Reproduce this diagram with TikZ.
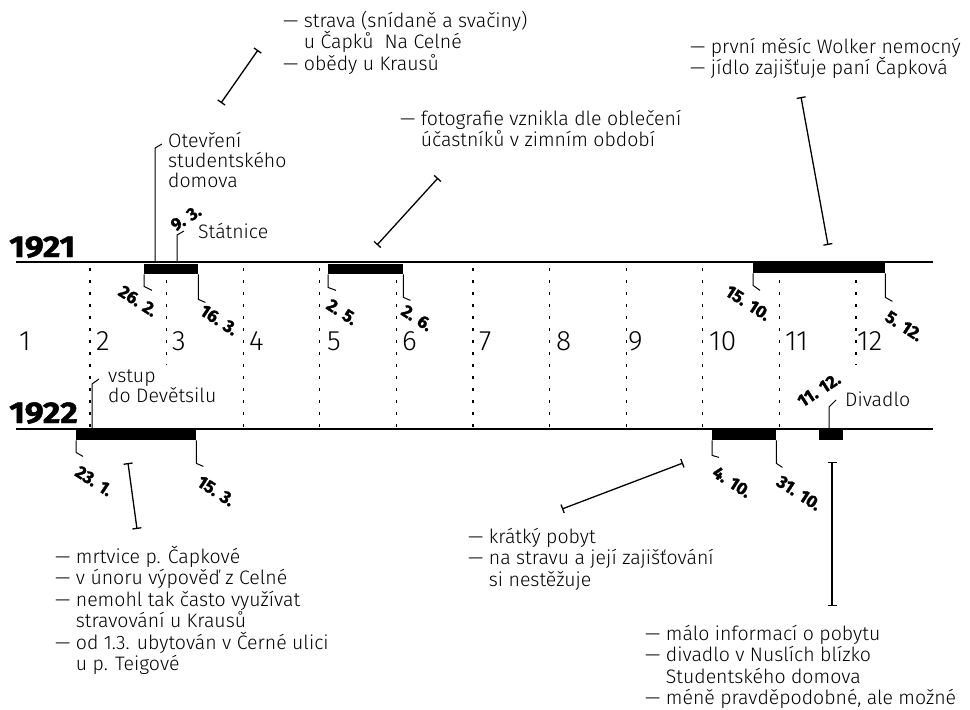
\documentclass[tikz,border=0pt]{standalone}
\usepackage{fontspec}
\setmainfont{Fira Sans Light}[BoldFont={Fira Sans Bold}]
\newfontfamily\heavyfont{Fira Sans Bold}[FakeBold=1.6]
\usetikzlibrary{arrows.meta}
\begin{document}
\begin{tikzpicture}[x=1pt,y=-1pt,
  lbl/.style={anchor=base west, inner sep=0pt, font=\fontsize{19.5}{21}\selectfont},
  mon/.style={anchor=base west, inner sep=0pt, font=\fontsize{28}{28}\selectfont},
  yr/.style={anchor=base west, inner sep=0pt, xscale=1.12, font=\fontsize{30}{30}\heavyfont},
  dt/.style={inner sep=0pt, font=\fontsize{17.5}{17.5}\heavyfont, rotate=-33},
  dtu/.style={inner sep=0pt, font=\fontsize{17.5}{17.5}\heavyfont, rotate=33},
  bar/.style={fill=black, inner sep=0pt, minimum height=10pt, anchor=north west},
  axis/.style={line width=1.4pt},
  lead/.style={line width=1pt},
  tick/.style={line width=1.3pt, {Bar[width=9pt]}-{Bar[width=9pt]}},
  gridl/.style={line width=1.2pt, dash pattern=on 2.5pt off 9.5pt}
]
\useasboundingbox[fill=white] (0,0) rectangle (970,710);

% grid
\foreach \gx/\gy in {90/428,166.6/365,243.2/428,319.8/428,396.4/428,473/428,549.6/428,626.2/428,702.8/428,779.4/428,856/365}{
  \draw[gridl] (\gx,268) -- (\gx,\gy);
}

% axes
\coordinate (a1s) at (16,262); \coordinate (a1e) at (933,262);
\coordinate (a2s) at (16,429); \coordinate (a2e) at (933,429);
\draw[axis] (a1s) -- (a1e);
\draw[axis] (a2s) -- (a2e);

\node[yr] (y1921) at (9,257) {1921};
\node[yr] (y1922) at (9,423) {1922};

% months
\foreach \i/\mx in {1/19,2/96,3/172,4/249,5/327,6/402,7/479,8/556,9/628,10/709,11/785,12/857}{
  \node[mon] (m\i) at (\mx,350) {\i};
}

% bars
\node[bar, minimum width=54pt] (b1) at (144,264) {};
\node[bar, minimum width=75pt] (b2) at (328,264) {};
\node[bar, minimum width=132pt] (b3) at (753,263) {};
\node[bar, minimum width=120pt] (b4) at (76,430) {};
\node[bar, minimum width=64pt] (b5) at (712,430) {};
\node[bar, minimum width=24pt] (b6) at (819,430) {};

% date leaders
\draw[lead] (b1.south west) -- ++(0,12) -- ++(8,4);
\draw[lead] (b1.south east) -- ++(0,25) -- ++(7,3);
\draw[lead] (b2.south west) -- ++(0,13) -- ++(8,3);
\draw[lead] (b2.south east) -- ++(0,23) -- ++(7,3);
\draw[lead] (b3.south west) -- ++(0,12) -- ++(7,5);
\draw[lead] (b3.south east) -- ++(0,24) -- ++(7,4);
\draw[lead] (b4.south west) -- ++(0,12) -- ++(7,4);
\draw[lead] (b4.south east) -- ++(0,23) -- ++(7,3);
\draw[lead] (b5.south west) -- ++(0,15) -- ++(7,2);
\draw[lead] (b5.south east) -- ++(0,23) -- ++(6,4);

% date labels
\node[dt] (d1) at (138,301) {26. 2.};
\node[dt] (d2) at (219,320) {16. 3.};
\node[dtu] (d3) at (186,218) {9. 3.};
\node[dt] (d4) at (342,312) {2. 5.};
\node[dt] (d5) at (417,318) {2. 6.};
\node[dt] (d6) at (748,303) {15. 10.};
\node[dt] (d7) at (904,326) {5. 12.};
\node[dt] (d8) at (94,481) {23. 1.};
\node[dt] (d9) at (216,491) {15. 3.};
\node[dt] (d10) at (732,482) {4. 10.};
\node[dt] (d11) at (799,493) {31. 10.};
\node[dtu] (d12) at (819,390) {11. 12.};

% event leaders
\coordinate (otv) at (155,262);
\draw[lead] (otv) -- ++(0,-114) -- ++(7,-4);
\coordinate (sta) at (177,262);
\draw[lead] (sta) -- ++(0,-27) -- ++(7,-4);
\coordinate (vst) at (92,429);
\draw[lead] (vst) -- ++(0,-45) -- ++(7,-5);
\coordinate (div) at (829,429);
\draw[lead] (div) -- ++(0,-22) -- ++(7,-7);

\node[lbl] (otv1) at (168,147) {Otevření};
\node[lbl] (otv2) at (168,167) {studentského};
\node[lbl] (otv3) at (168,187) {domova};
\node[lbl] (staT) at (198,238) {Státnice};
\node[lbl] (vst1) at (108,382) {vstup};
\node[lbl] (vst2) at (108,402) {do Devětsilu};
\node[lbl] (divT) at (845,406) {Divadlo};

% comment lines
\coordinate (c1a) at (221,103); \coordinate (c1b) at (258,50);
\coordinate (c2a) at (377,245); \coordinate (c2b) at (438,178);
\coordinate (c3a) at (801,97);  \coordinate (c3b) at (828,245);
\coordinate (c4a) at (128,463); \coordinate (c4b) at (137,529);
\coordinate (c5a) at (562,509); \coordinate (c5b) at (683,463);
\coordinate (c6a) at (832,462); \coordinate (c6b) at (832,606);
\draw[tick] (c1a) -- (c1b);
\draw[tick] (c2a) -- (c2b);
\draw[tick] (c3a) -- (c3b);
\draw[tick] (c4a) -- (c4b);
\draw[tick] (c5a) -- (c5b);
\draw[tick] (c6a) -- (c6b);

% comments
\node[lbl] (tA1) at (283,27)   {— strava (snídaně a svačiny)};
\node[lbl] (tA2) at (283,48.5) {\hphantom{— }u Čapků\ \ Na Celné};
\node[lbl] (tA3) at (283,70)   {— obědy u Krausů};

\node[lbl] (tB1) at (400,125)   {— fotografie vznikla dle oblečení};
\node[lbl] (tB2) at (400,146.5) {\hphantom{— }účastníků v zimním období};

\node[lbl] (tC1) at (690,53) {— první měsíc Wolker nemocný};
\node[lbl] (tC2) at (690,74) {— jídlo zajišťuje paní Čapková};

\node[lbl] (tD1) at (55,563)   {— mrtvice p. Čapkové};
\node[lbl] (tD2) at (55,584.5) {— v únoru výpověď z Celné};
\node[lbl] (tD3) at (55,606)   {— nemohl tak často využívat};
\node[lbl] (tD4) at (55,627.5) {\hphantom{— }stravování u Krausů};
\node[lbl] (tD5) at (55,649)   {— od 1.3. ubytován v Černé ulici};
\node[lbl] (tD6) at (55,670.5) {\hphantom{— }u p. Teigové};

\node[lbl] (tE1) at (468,543)   {— krátký pobyt};
\node[lbl] (tE2) at (468,564.5) {— na stravu a její zajišťování};
\node[lbl] (tE3) at (468,586)   {\hphantom{— }si nestěžuje};

\node[lbl] (tF1) at (645,640)   {— málo informací o pobytu};
\node[lbl] (tF2) at (645,661.5) {— divadlo v Nuslích blízko};
\node[lbl] (tF3) at (645,683)   {\hphantom{— }Studentského domova};
\node[lbl] (tF4) at (645,704.5) {— méně pravděpodobné, ale možné};
\end{tikzpicture}
\end{document}
